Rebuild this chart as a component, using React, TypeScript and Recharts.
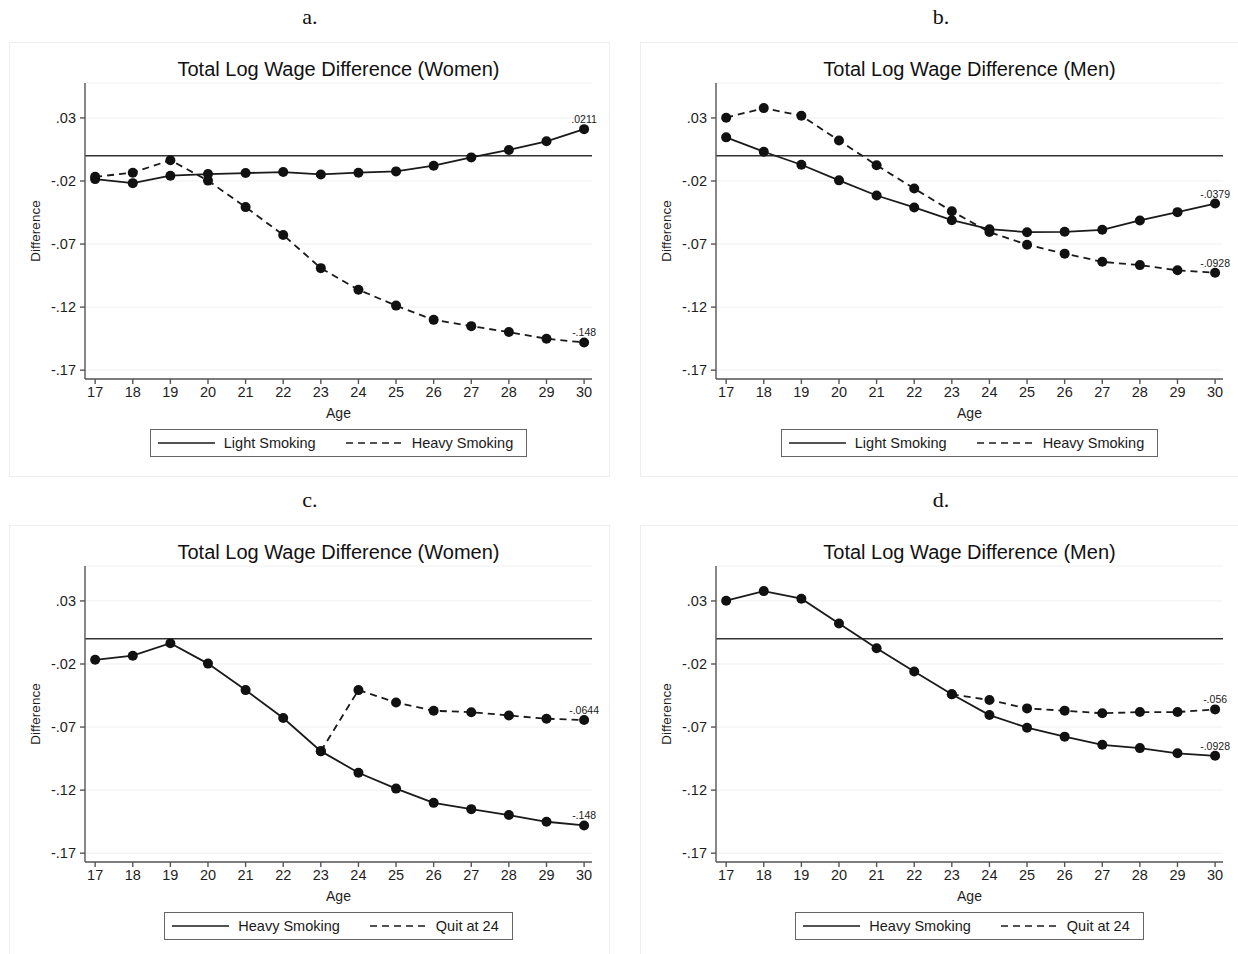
import {
  CartesianGrid,
  Label,
  LabelList,
  Legend,
  Line,
  LineChart,
  ReferenceLine,
  XAxis,
  YAxis,
} from "recharts";

const FONT = '"Liberation Sans", Arial, Helvetica, sans-serif';
const SERIF = '"Liberation Serif", "DejaVu Serif", serif';
const INK = "#1a1a1a";
const AXIS = "#555";
const GRID = "#eef1f2";

const PANEL_W = 601;
const PANEL_H = 435;
const CHART_W = 599;
const CHART_H = 433;

// data
const ages = [17, 18, 19, 20, 21, 22, 23, 24, 25, 26, 27, 28, 29, 30];

const womenLight = [
  -0.0185, -0.0217, -0.0158, -0.0145, -0.0137, -0.0129, -0.0148, -0.0134, -0.0124, -0.0079, -0.0013,
  0.0046, 0.0115, 0.0211,
];
const womenHeavy = [
  -0.0167, -0.0134, -0.0035, -0.0197, -0.0407, -0.0628, -0.0891, -0.1062, -0.1188, -0.1301, -0.1351,
  -0.1398, -0.1451, -0.148,
];
const womenQuit24 = [null, null, null, null, null, null, -0.0891, -0.0407, -0.0505, -0.0571, -0.0582, -0.0608, -0.0634, -0.0644];

const menLight = [
  0.0146, 0.0032, -0.0071, -0.0195, -0.0315, -0.041, -0.0511, -0.0582, -0.0606, -0.0603, -0.0587, -0.0513,
  -0.0447, -0.0379,
];
const menHeavy = [
  0.0302, 0.0378, 0.0318, 0.0121, -0.0075, -0.026, -0.044, -0.0605, -0.0705, -0.0776, -0.0841, -0.0867,
  -0.0908, -0.0928,
];
const menQuit24 = [null, null, null, null, null, null, -0.044, -0.0486, -0.0552, -0.057, -0.0591, -0.0581, -0.0581, -0.056];

const yTicks = [0.03, -0.02, -0.07, -0.12, -0.17];
const yDomain = [-0.177, 0.0577];
const xDomain = [16.73, 30.21];

type Series = { key: string; name: string; values: (number | null)[]; dashed: boolean };

type PanelProps = {
  left: number;
  top: number;
  letter: string;
  title: string;
  series: Series[];
};

const fmtTick = (v: number) => v.toFixed(2).replace("0.", ".");
const fmtStata = (v: number) => String(Number(v.toPrecision(3))).replace("0.", ".");

function Panel({ left, top, letter, title, series }: PanelProps) {
  const data = ages.map((age, i) => {
    const row: Record<string, number | null> = { age };
    series.forEach((s) => {
      row[s.key] = s.values[i];
    });
    return row;
  });
  const last = ages.length - 1;

  const endLabel = (s: Series) => (props: any) => {
    const { x, y, index, value } = props;
    const isLast = index === undefined ? value === s.values[last] : index === last;
    if (!isLast || value == null) return null;
    return (
      <text
        x={x}
        y={y - 10}
        textAnchor="middle"
        dominantBaseline="central"
        fontSize={10.5}
        fontFamily={FONT}
        fill={INK}
      >
        {fmtStata(value)}
      </text>
    );
  };

  const legendContent = () => (
    <div style={{ display: "flex", justifyContent: "center" }}>
      <div
        style={{
          display: "flex",
          alignItems: "center",
          height: 28,
          boxSizing: "border-box",
          border: "1px solid #666",
          padding: "0 13px 0 7px",
          background: "#fff",
          fontFamily: FONT,
          fontSize: 14.5,
          color: INK,
        }}
      >
        {series.map((s, i) => (
          <div key={s.key} style={{ display: "flex", alignItems: "center", marginLeft: i ? 30 : 0 }}>
            <svg width={57} height={10}>
              <line
                x1={0}
                y1={5}
                x2={57}
                y2={5}
                stroke={INK}
                strokeWidth={1.5}
                strokeDasharray={s.dashed ? "7 5" : undefined}
              />
            </svg>
            <span style={{ marginLeft: 9 }}>{s.name}</span>
          </div>
        ))}
      </div>
    </div>
  );

  return (
    <>
      <div
        style={{
          position: "absolute",
          left: left - 9,
          width: 620,
          top: top - 37,
          textAlign: "center",
          fontFamily: SERIF,
          fontSize: 22,
          lineHeight: "24px",
          color: "#111",
        }}
      >
        {letter}
      </div>
      <div
        style={{
          position: "absolute",
          left,
          top,
          width: PANEL_W,
          height: PANEL_H,
          boxSizing: "border-box",
          border: "1px solid #eceeef",
          background: "#fff",
        }}
      >
        <div
          style={{
            position: "absolute",
            left: 75,
            width: 507,
            top: 14,
            textAlign: "center",
            fontFamily: FONT,
            fontSize: 20,
            lineHeight: "24px",
            color: "#111",
            whiteSpace: "nowrap",
          }}
        >
          {title}
        </div>
        <LineChart
          width={CHART_W}
          height={CHART_H}
          data={data}
          margin={{ top: 40, right: 17, bottom: 57, left: 0 }}
        >
          <CartesianGrid stroke={GRID} vertical={false} />
          <XAxis
            dataKey="age"
            type="number"
            domain={xDomain}
            ticks={ages}
            height={40}
            stroke={AXIS}
            strokeWidth={1.4}
            tickSize={5}
            tickMargin={3}
            tick={{ fill: "#1e1e1e", fontSize: 14.5, fontFamily: FONT }}
          >
            <Label
              content={(p: any) => (
                <text
                  x={p.viewBox.x + p.viewBox.width / 2}
                  y={p.viewBox.y + 34}
                  textAnchor="middle"
                  dominantBaseline="central"
                  fontSize={14}
                  fontFamily={FONT}
                  fill="#1e1e1e"
                >
                  Age
                </text>
              )}
            />
          </XAxis>
          <YAxis
            type="number"
            domain={yDomain}
            ticks={yTicks}
            width={75}
            stroke={AXIS}
            strokeWidth={1.4}
            tickSize={5}
            tickMargin={4}
            tickFormatter={fmtTick}
            tick={{ fill: "#1e1e1e", fontSize: 14.5, fontFamily: FONT }}
          >
            <Label
              content={(p: any) => {
                const cx = p.viewBox.x + 25;
                const cy = p.viewBox.y + p.viewBox.height / 2;
                return (
                  <text
                    x={cx}
                    y={cy}
                    transform={`rotate(-90 ${cx} ${cy})`}
                    textAnchor="middle"
                    dominantBaseline="central"
                    fontSize={13.5}
                    fontFamily={FONT}
                    fill="#1e1e1e"
                  >
                    Difference
                  </text>
                );
              }}
            />
          </YAxis>
          <ReferenceLine y={0} stroke="#333" strokeWidth={1.6} />
          {series.map((s) => (
            <Line
              key={s.key}
              dataKey={s.key}
              name={s.name}
              type="linear"
              stroke={INK}
              strokeWidth={1.8}
              strokeDasharray={s.dashed ? "7 5" : undefined}
              dot={{ r: 5, fill: "#111", stroke: "#111", strokeWidth: 0 }}
              activeDot={false}
              isAnimationActive={false}
            >
              <LabelList dataKey={s.key} content={endLabel(s)} />
            </Line>
          ))}
          <Legend
            layout="horizontal"
            verticalAlign="middle"
            align="center"
            content={legendContent}
            wrapperStyle={{ position: "absolute", top: 386, left: 75, width: 507, height: 28 }}
          />
        </LineChart>
      </div>
    </>
  );
}

export default function App() {
  return (
    <div
      style={{
        position: "absolute",
        left: 0,
        top: 0,
        width: 1238,
        height: 954,
        overflow: "hidden",
        background: "#fff",
      }}
    >
      <Panel
        left={9}
        top={42}
        letter="a."
        title="Total Log Wage Difference (Women)"
        series={[
          { key: "light", name: "Light Smoking", values: womenLight, dashed: false },
          { key: "heavy", name: "Heavy Smoking", values: womenHeavy, dashed: true },
        ]}
      />
      <Panel
        left={640}
        top={42}
        letter="b."
        title="Total Log Wage Difference (Men)"
        series={[
          { key: "light", name: "Light Smoking", values: menLight, dashed: false },
          { key: "heavy", name: "Heavy Smoking", values: menHeavy, dashed: true },
        ]}
      />
      <Panel
        left={9}
        top={525}
        letter="c."
        title="Total Log Wage Difference (Women)"
        series={[
          { key: "heavy", name: "Heavy Smoking", values: womenHeavy, dashed: false },
          { key: "quit", name: "Quit at 24", values: womenQuit24, dashed: true },
        ]}
      />
      <Panel
        left={640}
        top={525}
        letter="d."
        title="Total Log Wage Difference (Men)"
        series={[
          { key: "heavy", name: "Heavy Smoking", values: menHeavy, dashed: false },
          { key: "quit", name: "Quit at 24", values: menQuit24, dashed: true },
        ]}
      />
    </div>
  );
}
